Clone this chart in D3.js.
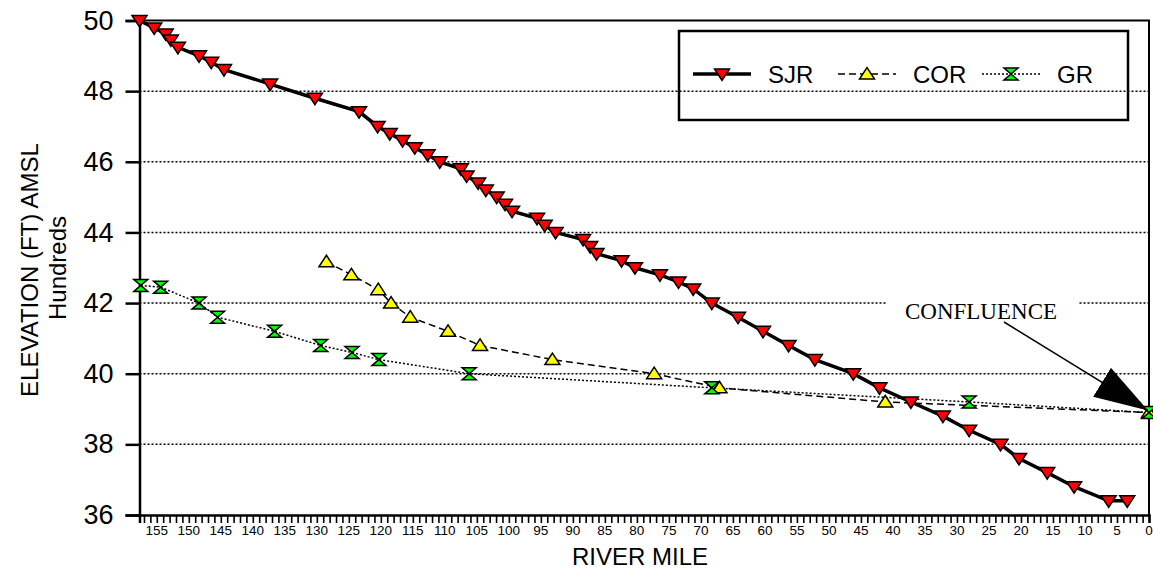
<!DOCTYPE html>
<html>
<head>
<meta charset="utf-8">
<script src="https://cdn.jsdelivr.net/npm/d3@7"></script>
<style>
  body { margin: 0; background: #fff; }
  svg { display: block; font-family: "Liberation Sans", Arial, sans-serif; }
</style>
</head>
<body>
<div id="canvas"></div>
<script>
// river mile / elevation (hundreds of ft)
const sjrMiles = [157.7, 155.4, 153.6, 152.8, 151.7, 148.4, 146.5, 144.5, 137.3, 130.3, 123.4,
  120.5, 118.6, 116.6, 114.7, 112.7, 110.8, 107.5, 106.6, 104.8, 103.6, 101.9, 100.6, 99.5,
  95.6, 94.4, 92.7, 88.4, 87.3, 86.3, 82.4, 80.3, 76.4, 73.5, 71.2, 68.3, 64.2, 60.3, 56.3,
  52.2, 46.2, 42.1, 37.2, 32.2, 28.1, 23.2, 20.3, 15.9, 11.7, 6.3, 3.4];
const sjrElev = [50.0, 49.79, 49.62, 49.45, 49.24, 49.0, 48.82, 48.61, 48.2, 47.8, 47.42,
  47.0, 46.8, 46.6, 46.4, 46.2, 46.0, 45.8, 45.6, 45.4, 45.2, 45.0, 44.8, 44.6,
  44.4, 44.2, 44.0, 43.8, 43.6, 43.4, 43.2, 43.0, 42.8, 42.6, 42.4, 42.0, 41.6, 41.2, 40.8,
  40.4, 40.0, 39.6, 39.2, 38.8, 38.4, 38.0, 37.6, 37.2, 36.8, 36.4, 36.4];

const corMiles = [128.5, 124.6, 120.4, 118.4, 115.4, 109.5, 104.5, 93.2, 77.3, 67.1, 41.2, 0];
const corElev = [43.17, 42.8, 42.38, 42.0, 41.6, 41.2, 40.8, 40.4, 40.0, 39.6, 39.2, 38.9];

const grMiles = [157.5, 154.4, 148.4, 145.5, 136.6, 129.4, 124.5, 120.3, 106.2, 68.3, 28.1, 0];
const grElev = [42.5, 42.45, 42.0, 41.6, 41.2, 40.8, 40.6, 40.4, 40.0, 39.6, 39.2, 38.9];

const yTicks = [36, 38, 40, 42, 44, 46, 48, 50];
const xLabelTicks = d3.range(155, -1, -5);
const seriesNames = ["SJR", "COR", "GR"];

const W = 1153, H = 571;
const x = d3.scaleLinear().domain([157.7, 0]).range([139.5, 1149]);
const y = d3.scaleLinear().domain([36, 50]).range([515, 20.5]);

const svg = d3.select("#canvas").append("svg").attr("width", W).attr("height", H);

// gridlines
svg.append("g")
  .selectAll("line")
  .data(yTicks.filter((d) => d > 36 && d < 50))
  .join("line")
  .attr("x1", x.range()[0]).attr("x2", x.range()[1])
  .attr("y1", (d) => y(d)).attr("y2", (d) => y(d))
  .attr("stroke", "#000").attr("stroke-width", 1.5)
  .attr("stroke-dasharray", "2,2");

// frame top + right
svg.append("path")
  .attr("d", `M${x.range()[0]},${y(50)}H${x.range()[1]}V${y(36)}`)
  .attr("fill", "none").attr("stroke", "#000").attr("stroke-width", 2);

// y axis
const yAxis = svg.append("g")
  .attr("transform", `translate(${x.range()[0]},0)`)
  .call(d3.axisLeft(y).tickValues(yTicks).tickSize(14).tickPadding(12).tickFormat(d3.format("d")));
yAxis.select(".domain").attr("stroke-width", 2.5);
yAxis.selectAll(".tick line").attr("stroke-width", 2.5);
yAxis.selectAll("text").attr("font-size", 27).attr("font-family", "Liberation Sans, Arial").attr("fill", "#000");

// x axis: every mile a tick, labels each 5
const xAxis = svg.append("g")
  .attr("transform", `translate(0,${y(36)})`)
  .call(d3.axisBottom(x).tickValues(d3.range(0, 158)).tickSize(8).tickFormat(""));
xAxis.select(".domain").attr("stroke-width", 2.5);
xAxis.selectAll(".tick line").attr("stroke-width", 1.6);

svg.append("g")
  .selectAll("text")
  .data(xLabelTicks)
  .join("text")
  .attr("x", (d) => x(d))
  .attr("y", 535)
  .attr("text-anchor", "middle")
  .attr("font-size", 13.5)
  .text((d) => d);

// axis titles
svg.append("text")
  .attr("x", 640).attr("y", 565)
  .attr("text-anchor", "middle")
  .attr("font-size", 24)
  .text("RIVER MILE");

svg.append("text")
  .attr("transform", "translate(38,270) rotate(-90)")
  .attr("text-anchor", "middle")
  .attr("font-size", 24)
  .text("ELEVATION (FT) AMSL");

svg.append("text")
  .attr("transform", "translate(66,268) rotate(-90)")
  .attr("text-anchor", "middle")
  .attr("font-size", 24)
  .text("Hundreds");

// marker shapes
const downTri = "M-7.5,-5L7.5,-5L0,6.5Z";
const upTri = "M-7.5,5L7.5,5L0,-6.5Z";
const bowtie = "M-7,-6L7,-6L0,0L7,6L-7,6L0,0Z";

const line = d3.line().x((d) => x(d[0])).y((d) => y(d[1]));
const zip = (a, b) => a.map((d, i) => [d, b[i]]);

const series = [
  { name: "SJR", data: zip(sjrMiles, sjrElev), width: 3.5, dash: null, shape: downTri, fill: "#ff0000" },
  { name: "COR", data: zip(corMiles, corElev), width: 1.5, dash: "7,4", shape: upTri, fill: "#ffff00" },
  { name: "GR", data: zip(grMiles, grElev), width: 1.5, dash: "2,2", shape: bowtie, fill: "#00ff00" },
];

// draw GR, COR lines under SJR
[series[2], series[1], series[0]].forEach((s) => {
  svg.append("path")
    .datum(s.data)
    .attr("fill", "none")
    .attr("stroke", "#000")
    .attr("stroke-width", s.width)
    .attr("stroke-dasharray", s.dash)
    .attr("d", line);
});

[series[1], series[2], series[0]].forEach((s) => {
  svg.append("g")
    .selectAll("path")
    .data(s.data)
    .join("path")
    .attr("transform", (d) => `translate(${x(d[0])},${y(d[1])})`)
    .attr("d", s.shape)
    .attr("fill", s.fill)
    .attr("stroke", "#000")
    .attr("stroke-width", 1.5)
    .attr("stroke-linejoin", "miter");
});

// legend
const legend = svg.append("g");
legend.append("rect")
  .attr("x", 679).attr("y", 31).attr("width", 449).attr("height", 89)
  .attr("fill", "none").attr("stroke", "#000").attr("stroke-width", 2.5);

const legendX = [693, 838, 982];
series.forEach((s, i) => {
  const g = legend.append("g").attr("transform", `translate(${legendX[i]},74)`);
  g.append("line")
    .attr("x1", 0).attr("x2", 58)
    .attr("stroke", "#000").attr("stroke-width", s.width)
    .attr("stroke-dasharray", s.dash);
  g.append("path")
    .attr("transform", "translate(29,0)")
    .attr("d", s.shape)
    .attr("fill", s.fill).attr("stroke", "#000").attr("stroke-width", 1.5);
  g.append("text")
    .attr("x", 75).attr("y", 9)
    .attr("font-size", 24)
    .text(seriesNames[i]);
});

// confluence annotation
svg.append("rect")
  .attr("x", 887).attr("y", 294).attr("width", 191).attr("height", 20)
  .attr("fill", "#fff");
svg.append("text")
  .attr("x", 981).attr("y", 319)
  .attr("text-anchor", "middle")
  .attr("font-family", "Liberation Serif, Times New Roman, serif")
  .attr("font-size", 23)
  .text("CONFLUENCE");

svg.append("defs").append("marker")
  .attr("id", "arrow")
  .attr("viewBox", "0 0 54 34")
  .attr("refX", 54).attr("refY", 17)
  .attr("markerWidth", 54).attr("markerHeight", 34)
  .attr("markerUnits", "userSpaceOnUse")
  .attr("orient", "auto")
  .append("path")
  .attr("d", "M0,0L54,17L0,34Z")
  .attr("fill", "#000");

svg.append("line")
  .attr("x1", 1004).attr("y1", 322)
  .attr("x2", x(0) - 1).attr("y2", y(38.9) - 2)
  .attr("stroke", "#000").attr("stroke-width", 1.5)
  .attr("marker-end", "url(#arrow)");
</script>
</body>
</html>
